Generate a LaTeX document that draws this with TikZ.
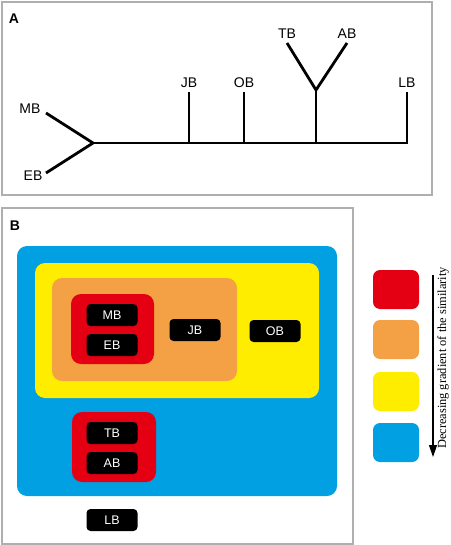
\documentclass[tikz,border=0pt]{standalone}
\usepackage{fontspec}
\setmainfont{Liberation Sans}
\newfontfamily\serifface{Liberation Serif}
\usetikzlibrary{arrows.meta, positioning}
\definecolor{simred}    {RGB}{228,  0,  18}
\definecolor{simorange} {RGB}{243,161,  68}
\definecolor{simyellow} {RGB}{255,237,   0}
\definecolor{simblue}   {RGB}{  0,160, 226}
\definecolor{framegray} {RGB}{175,175, 175}

\begin{document}
\begin{tikzpicture}[x=1pt,y=-1pt,
		panel/.style={draw=framegray,line width=1.3pt},
		branch/.style={line width=2.8pt},
		lab/.style={font=\fontsize{14}{14}\selectfont,inner sep=1pt},
		tag/.style={fill=black,text=white,rounded corners=4pt,minimum width=51pt,minimum height=22pt,inner sep=0pt,font=\fontsize{12.5}{12.5}\selectfont},
		zone/.style={rounded corners=10pt},
		key/.style={rounded corners=7pt,minimum width=46pt,minimum height=39pt,inner sep=0pt}]
	\useasboundingbox (0,0) rectangle (450,545);
	% panel A
	\draw[panel] (2,2) rectangle (432,195);
	\node[font=\bfseries\fontsize{14}{14}\selectfont] (titleA) at (14,19) {A};
	\coordinate (root) at (93,143);
	\coordinate (tail) at (407,143);
	\coordinate (mbtip) at (46,113);
	\coordinate (ebtip) at (46,173);
	\coordinate (jbtip) at (189,92);
	\coordinate (obtip) at (244,92);
	\coordinate (fork) at (316,90);
	\coordinate (tbtip) at (287,43);
	\coordinate (abtip) at (347,43);
	\coordinate (lbtip) at (407,92);
	\draw[branch] (mbtip) -- (root) -- (ebtip);
	\draw[branch] (root) -- (tail) -- (lbtip);
	\draw[branch] (jbtip) -- (jbtip |- root);
	\draw[branch] (obtip) -- (obtip |- root);
	\draw[branch] (fork |- root) -- (fork);
	\draw[branch] (tbtip) -- (fork) -- (abtip);
	\node[lab] (mbA) at (30,109) {MB};
	\node[lab] (ebA) at (33,176) {EB};
	\node[lab,above=3pt of jbtip] (jbA) {JB};
	\node[lab,above=3pt of obtip] (obA) {OB};
	\node[lab,above=3pt of tbtip] (tbA) {TB};
	\node[lab,above=3pt of abtip] (abA) {AB};
	\node[lab,above=3pt of lbtip] (lbA) {LB};
	% panel B
	\draw[panel] (2,208) rectangle (353,544);
	\node[font=\bfseries\fontsize{14}{14}\selectfont] (titleB) at (15,226) {B};
	\fill[zone,simblue] (17,246) rectangle (337,496);
	\fill[zone,simyellow] (35,263) rectangle (319,398);
	\fill[zone,simorange] (52,278) rectangle (237,381);
	\fill[zone,simred] (71,294) rectangle (154,364);
	\fill[zone,simred] (72,412) rectangle (156,482);
	\node[tag] (mbB) at (112,315) {MB};
	\node[tag] (ebB) at (112,345) {EB};
	\node[tag] (jbB) at (195,330) {JB};
	\node[tag] (obB) at (275,331) {OB};
	\node[tag] (tbB) at (112,433) {TB};
	\node[tag] (abB) at (112,463) {AB};
	\node[tag] (lbB) at (112,520) {LB};
	% legend
	\node[key,fill=simred] (k1) at (396,289.5) {};
	\node[key,fill=simorange] (k2) at (396,339.5) {};
	\node[key,fill=simyellow] (k3) at (396,391.5) {};
	\node[key,fill=simblue] (k4) at (396,442.5) {};
	\coordinate (arrtop) at (433,275);
	\coordinate (arrend) at (433,457);
	\draw[line width=1.2pt,-{Triangle[length=12pt,width=8pt]}] (arrtop) -- (arrend);
	\node[rotate=90,font=\serifface\fontsize{12.4}{13}\selectfont,inner sep=0pt] (gradtext) at (443,358) {Decreasing gradient of the similarity};
\end{tikzpicture}
\end{document}
